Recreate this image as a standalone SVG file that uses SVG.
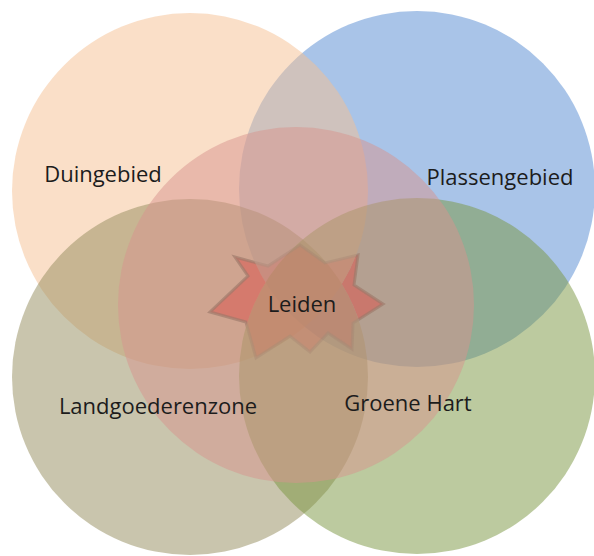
<svg xmlns="http://www.w3.org/2000/svg" width="594" height="556" viewBox="0 0 594 556">
  <style>
    .c { fill-opacity: 0.5; stroke: none; }
    .lbl { font-family: "Open Sans", "Noto Sans", sans-serif; font-size: 22px; fill: #1c1c1c; text-anchor: middle; }
  </style>
  <defs>
    <clipPath id="westSide">
      <circle cx="190" cy="191" r="178"/>
      <circle cx="190" cy="377" r="178"/>
    </clipPath>
    <mask id="starMask" maskUnits="userSpaceOnUse" x="0" y="0" width="594" height="556" color-interpolation="sRGB">
      <rect x="0" y="0" width="594" height="556" fill="#ffffff"/>
      <g clip-path="url(#westSide)">
        <circle cx="417" cy="189" r="178" fill="#6a6a6a"/>
        <circle cx="417" cy="376" r="178" fill="#6a6a6a"/>
      </g>
    </mask>
  </defs>
  <rect width="594" height="556" fill="#ffffff"/>
  <g id="plassengebied">
    <circle class="c" cx="417" cy="189" r="178" fill="#5389D1"/>
  </g>
  <g id="duingebied">
    <circle class="c" cx="190" cy="191" r="178" fill="#F5BF91"/>
  </g>
  <g id="landgoederenzone">
    <circle class="c" cx="190" cy="377" r="178" fill="#938B5B"/>
  </g>
  <g id="groene-hart">
    <circle class="c" cx="417" cy="376" r="178" fill="#79953F"/>
  </g>
  <g id="centrum">
    <circle class="c" cx="296" cy="305" r="178" fill="#D7938D"/>
  </g>
  <g id="leiden" mask="url(#starMask)">
    <polygon points="300,245 325,263 358,255 354,285 383,304 353,323 352,349 328,333 310,352 290,336 256,358 246,322 210,312 248,276 235,257 268,266" fill="#DA5850" fill-opacity="0.55" stroke="#9C7A6A" stroke-opacity="0.65" stroke-width="3" stroke-linejoin="miter"/>
  </g>
  <g id="connectors"></g>
  <g id="labels">
    <text class="lbl" x="103" y="182">Duingebied</text>
    <text class="lbl" x="500" y="185">Plassengebied</text>
    <text class="lbl" x="158" y="414">Landgoederenzone</text>
    <text class="lbl" x="408" y="411">Groene Hart</text>
    <text class="lbl" x="302" y="312">Leiden</text>
  </g>
</svg>
